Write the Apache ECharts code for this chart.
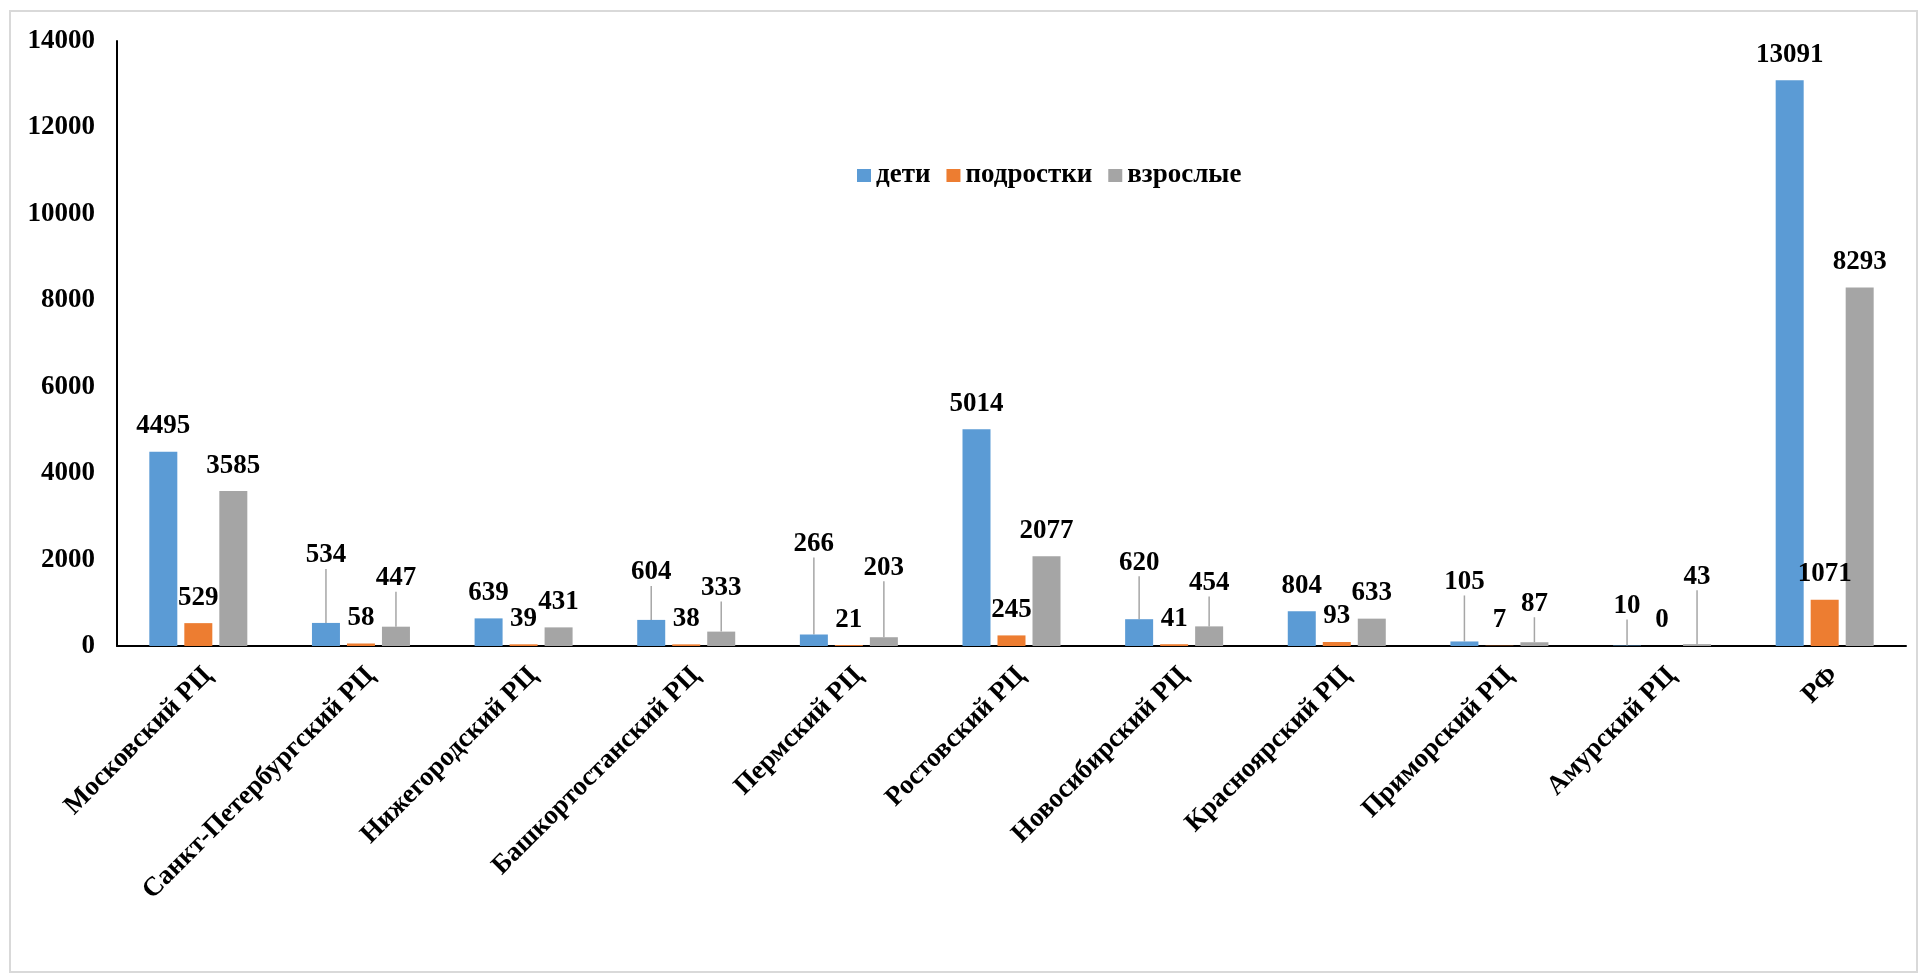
<!DOCTYPE html>
<html>
<head>
<meta charset="utf-8">
<title>Распределение по РЦ</title>
<script src="https://cdn.jsdelivr.net/npm/echarts@6/dist/echarts.min.js"></script>
<style>
  html, body { margin: 0; padding: 0; background: #ffffff; }
  #chart { width: 1923px; height: 978px; }
</style>
</head>
<body>
<div id="chart"></div>
<script>
// Regional centres and the country total
const categories = [
  'Московский РЦ', 'Санкт-Петербургский РЦ', 'Нижегородский РЦ',
  'Башкортостанский РЦ', 'Пермский РЦ', 'Ростовский РЦ',
  'Новосибирский РЦ', 'Красноярский РЦ', 'Приморский РЦ',
  'Амурский РЦ', 'РФ'
];

const seriesNames = ['дети', 'подростки', 'взрослые'];

const children = [4495, 534, 639, 604, 266, 5014, 620, 804, 105, 10, 13091];
const teens    = [529, 58, 39, 38, 21, 245, 41, 93, 7, 0, 1071];
const adults   = [3585, 447, 431, 333, 203, 2077, 454, 633, 87, 43, 8293];

const yTicks = { min: 0, max: 14000, interval: 2000 };

// How far (px) some value labels are raised above their bars; raised labels get a leader line
const liftChildren = [0, 42, 0, 22, 65, 0, 31, 0, 34, 14, 0];
const liftTeens    = [0, 0, 0, 0, 0, 0, 0, 0, 0, 0, 0];
const liftAdults   = [0, 23, 0, 18, 44, 0, 18, 0, 13, 42, 0];

const colors = ['#5B9BD5', '#ED7D31', '#A5A5A5'];
const FONT = '"Liberation Serif", "Times New Roman", serif';
const FONT_SIZE = 27;

const values = [children, teens, adults];
const lifts = [liftChildren, liftTeens, liftAdults];
const leaderStyle = { color: '#a6a6a6', width: 1.5 };

function makeSeries(idx) {
  return {
    name: seriesNames[idx],
    type: 'bar',
    barWidth: 28,
    barGap: '25%',
    itemStyle: { color: colors[idx] },
    label: {
      show: true,
      position: 'top',
      distance: 12,
      color: '#000',
      fontFamily: FONT,
      fontWeight: 'bold',
      fontSize: FONT_SIZE
    },
    labelLine: { show: false, lineStyle: leaderStyle },
    labelLayout: function (p) {
      return { dy: -lifts[idx][p.dataIndex] };
    },
    data: values[idx].map(function (v, i) {
      return {
        value: v,
        labelLine: { show: lifts[idx][i] > 0, lineStyle: leaderStyle }
      };
    }),
    emphasis: { disabled: true }
  };
}

const chart = echarts.init(document.getElementById('chart'), null, { renderer: 'canvas' });

chart.setOption({
  animation: false,
  backgroundColor: '#ffffff',
  color: colors,
  graphic: [{
    type: 'rect',
    shape: { x: 10, y: 11, width: 1907, height: 961 },
    style: { fill: 'none', stroke: '#d9d9d9', lineWidth: 2 },
    silent: true
  }],
  legend: {
    data: seriesNames,
    left: 852,
    top: 157,
    icon: 'rect',
    itemWidth: 14,
    itemHeight: 13,
    itemGap: 16,
    textStyle: {
      fontFamily: FONT,
      fontWeight: 'bold',
      fontSize: FONT_SIZE,
      color: '#000'
    }
  },
  grid: {
    left: 117,
    right: 17,
    top: 41,
    bottom: 332,
    containLabel: false
  },
  xAxis: {
    type: 'category',
    data: categories,
    axisLine: { show: true, lineStyle: { color: '#000', width: 2 } },
    axisTick: { show: false },
    axisLabel: {
      interval: 0,
      rotate: 45,
      margin: 16,
      verticalAlign: 'top',
      color: '#000',
      fontFamily: FONT,
      fontWeight: 'bold',
      fontSize: FONT_SIZE
    },
    splitLine: { show: false }
  },
  yAxis: {
    type: 'value',
    min: yTicks.min,
    max: yTicks.max,
    interval: yTicks.interval,
    axisLine: { show: true, lineStyle: { color: '#000', width: 2 } },
    axisTick: { show: false },
    splitLine: { show: false },
    axisLabel: {
      margin: 22,
      color: '#000',
      fontFamily: FONT,
      fontWeight: 'bold',
      fontSize: FONT_SIZE,
      formatter: function (v) { return String(v); }
    }
  },
  series: [makeSeries(0), makeSeries(1), makeSeries(2)]
});
</script>
</body>
</html>
